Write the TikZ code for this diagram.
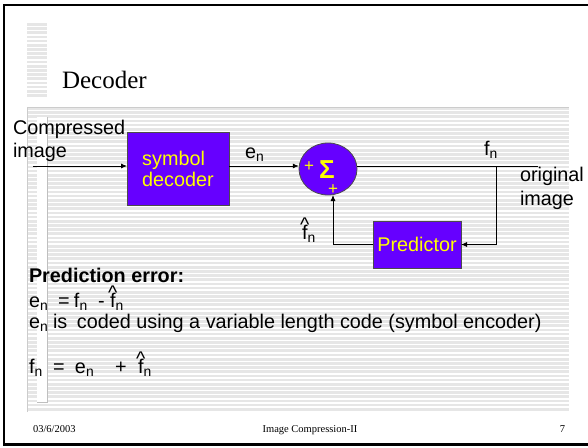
\documentclass[tikz,border=0pt]{standalone}
\usepackage{fontspec}
\setmainfont{Liberation Sans}
\newfontfamily\serif{Liberation Serif}
\usetikzlibrary{arrows.meta,shapes.geometric}
\definecolor{boxfill}{RGB}{102,0,255}
\definecolor{boxtext}{RGB}{255,255,0}
\definecolor{stripegray}{RGB}{230,230,230}
% f with a caret above it
\newcommand\fhat{\makebox[0pt][l]{\makebox[0.278em][c]{\raisebox{0.36em}{\textasciicircum}}}f}
\newcommand\sub[1]{\textsubscript{#1}}
% a piece of text in a slot of fixed width
\newcommand\slot[2]{\makebox[#1pt][l]{#2}}
\begin{document}
\begin{tikzpicture}[x=1pt,y=-1pt,
  every node/.style={inner sep=0pt,outer sep=0pt,font=\fontsize{19.8}{22}\selectfont},
  block/.style={draw=black!70,line width=0.8pt,fill=boxfill,text=boxtext},
  sig/.style={-{Latex[length=6pt,width=5pt]},line width=0.8pt},
  wire/.style={line width=0.8pt},
  stripe/.style={fill=stripegray}]
\useasboundingbox (0,0) rectangle (588,447);
\fill[white] (0,0) rectangle (588,447);
% striped backgrounds
\foreach \k in {0,...,17} \fill[stripe] (27,23+\k*4.18) rectangle (47,23+\k*4.18+2.7);
\foreach \k in {0,...,72} \fill[stripe] (27,107+\k*4.18) rectangle (569,107+\k*4.18+2.7);
\draw[black!20,line width=0.8pt] (27,412) -- (27,107) -- (569,107);
\fill[white] (37,117) rectangle (47,402);
\draw[black!25,line width=0.6pt] (47,117) -- (47,402) -- (37,402);
% frame
\draw[line width=2.5pt] (590,5) -- (4,5) -- (4,444.5) -- (590,444.5);
% title and footer
\node[anchor=base west,font=\serif\fontsize{25}{28}\selectfont] (title) at (62,88) {Decoder};
\node[anchor=base west,font=\serif\fontsize{10.5}{12}\selectfont] (date) at (33,432) {03/6/2003};
\node[anchor=base,font=\serif\fontsize{10.5}{12}\selectfont] (foot) at (310,432) {Image Compression-II};
\node[anchor=base east,font=\serif\fontsize{10.5}{12}\selectfont] (page) at (565,432) {7};
% blocks
\node[block,minimum width=102pt,minimum height=73pt,align=left] (symdec) at (178,168.5) {symbol\\[-1pt]decoder};
\node[block,ellipse,minimum width=58pt,minimum height=52pt] (sum) at (328,169) {};
\node[block,minimum width=88pt,minimum height=47pt] (pred) at (417,244.5) {Predictor};
\node[text=boxtext,font=\fontsize{26}{28}\bfseries\selectfont,anchor=base] (sigma) at (327,178.5) {Σ};
\node[text=boxtext,font=\fontsize{17}{20}\selectfont] (pl) at (309,167) {+};
\node[text=boxtext,font=\fontsize{17}{20}\selectfont] (pb) at (333,190) {+};
% signal path
\coordinate (in) at (33,166);
\coordinate (out) at (538,166);
\coordinate (tap) at (496,166);
\draw[sig] (in) -- (in -| symdec.west);
\draw[sig] (symdec.east |- in) -- (298.8,166);
\draw[wire] (sum.east |- in) -- (out);
\draw[sig] (tap) |- (pred.east);
\draw[sig] (pred.west) -| ([xshift=5pt]sum.south);
% labels
\node[anchor=base west] (lin1) at (13,134) {Compressed};
\node[anchor=base west] (lin2) at (13,157.5) {image};
\node[anchor=base west] (len) at (245,158) {e\sub{n}};
\node[anchor=base west] (lfn) at (484,155) {f\sub{n}};
\node[anchor=base west] (lout1) at (520,181) {original};
\node[anchor=base west] (lout2) at (520,205) {image};
\node[anchor=base west] (lfh) at (302,239) {\fhat\sub{n}};
% notes
\node[anchor=base west,font=\fontsize{19.8}{22}\bfseries\selectfont] (n1) at (29,282) {Prediction error:};
\node[anchor=base west] (n2) at (29,307) {\slot{29}{e\sub{n}}\slot{16}{=}\slot{24}{f\sub{n}}\slot{12}{-}\fhat\sub{n}};
\node[anchor=base west] (n3) at (29,328) {\slot{24}{e\sub{n}}\slot{24}{is}coded using a variable length code (symbol encoder)};
\node[anchor=base west] (n4) at (29,373) {\slot{24}{f\sub{n}}\slot{22}{=}\slot{40}{e\sub{n}}\slot{23}{+}\fhat\sub{n}};
\end{tikzpicture}
\end{document}
